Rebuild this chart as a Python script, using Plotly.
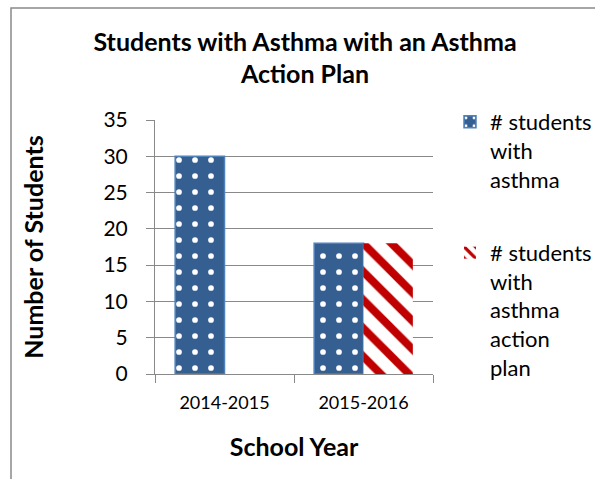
import plotly.graph_objects as go

years = ["2014-2015", "2015-2016"]
with_asthma = [30, 18]
with_plan = [None, 18]
series_names = ["# students<br>with<br>asthma", "# students<br>with<br>asthma<br>action<br>plan"]

FONT = "Lato, Calibri, Open Sans, sans-serif"

fig = go.Figure()
fig.add_trace(go.Bar(
    x=years, y=with_asthma, name=series_names[0], legendgroup="a",
    marker=dict(color="#365F91", line=dict(color="#4F81BD", width=1.5),
                pattern=dict(shape=".", fgcolor="white", bgcolor="#365F91",
                             size=16, solidity=0.1, fillmode="replace")),
))
fig.add_trace(go.Bar(
    x=years, y=with_plan, name=series_names[1], legendgroup="b",
    marker=dict(color="white", line=dict(color="white", width=0),
                pattern=dict(shape="\\", fgcolor="#C00000", bgcolor="white",
                             size=20, solidity=0.4, fillmode="replace")),
))

fig.update_layout(
    width=595, height=479,
    margin=dict(l=155, r=162, t=120, b=105, autoexpand=False),
    paper_bgcolor="white", plot_bgcolor="white",
    barmode="group", bargap=0.29, bargroupgap=0,
    font=dict(family=FONT, color="black"),
    title=dict(text="<b>Students with Asthma with an Asthma<br>Action Plan</b>",
               x=305 / 595, xanchor="center", xref="container",
               y=1 - 50.5 / 479, yanchor="middle",
               font=dict(size=25, family=FONT)),
    legend=dict(xref="container", yref="container", x=450 / 595, y=0.789,
                xanchor="left", yanchor="top", valign="top", itemwidth=30,
                maxheight=420,
                font=dict(size=22, family=FONT), tracegroupgap=42,
                bgcolor="rgba(0,0,0,0)"),
    xaxis=dict(
        title=dict(text="<b>School Year</b>", font=dict(size=25, family=FONT), standoff=26),
        tickfont=dict(size=18, family=FONT), ticklabelstandoff=12,
        showline=True, linecolor="#898989", linewidth=1,
        ticks="outside", tickcolor="#898989", ticklen=8,
        tickson="boundaries", showgrid=False, automargin=False,
    ),
    yaxis=dict(
        title=dict(text="<b>Number of Students</b>", font=dict(size=25, family=FONT), standoff=52),
        range=[0, 35], dtick=5, tick0=0,
        tickfont=dict(size=21, family=FONT), ticklabelstandoff=14,
        showline=True, linecolor="#898989", linewidth=1,
        ticks="outside", tickcolor="#898989", ticklen=8,
        showgrid=True, gridcolor="#898989", gridwidth=1,
        zeroline=False, automargin=False,
    ),
    shapes=[dict(type="rect", xref="paper", yref="paper",
                 x0=(11 - 155) / 278, x1=1.7, y0=-0.6, y1=(374 - 8) / 254,
                 line=dict(color="#898989", width=1.5))],
)

fig.write_html("out.html", config={"displayModeBar": False},
               post_script="document.body.style.margin='0';")
